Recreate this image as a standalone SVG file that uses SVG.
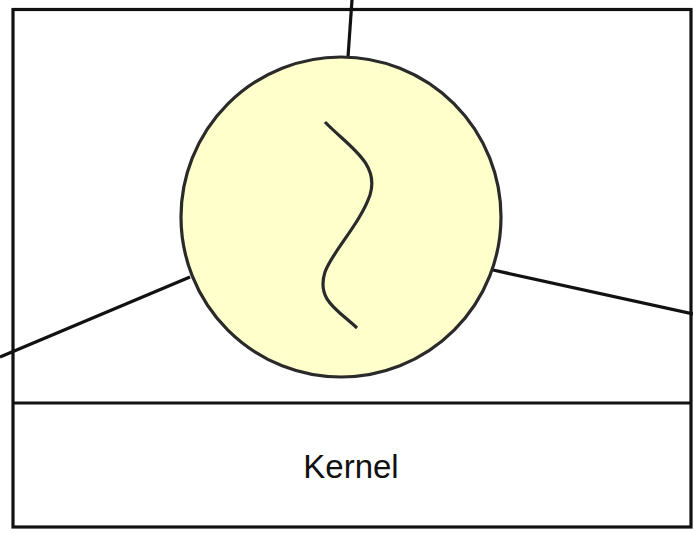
<svg xmlns="http://www.w3.org/2000/svg" width="693" height="534" viewBox="0 0 693 534">
  <style>
    .frame { fill: #ffffff; stroke: #111111; stroke-width: 3.2; }
    .link { stroke: #111111; stroke-width: 3.2; fill: none; }
    .proc { fill: #ffffcc; stroke: #2a2a2a; stroke-width: 3.2; }
    .thread { fill: none; stroke: #2a2a2a; stroke-width: 3.2; stroke-linecap: butt; }
    .label { font-family: "Liberation Sans", Arial, sans-serif; font-size: 33px; fill: #111111; }
  </style>
  <g id="system">
    <rect class="frame" x="13" y="9.5" width="678" height="517.5"/>
    <line class="link" x1="13" y1="403" x2="691" y2="403"/>
  </g>
  <g id="kernel">
    <text class="label" x="351" y="478" text-anchor="middle">Kernel</text>
  </g>
  <g id="connectors">
    <line class="link" x1="352" y1="0" x2="348" y2="57"/>
    <line class="link" x1="0" y1="357" x2="190" y2="277"/>
    <line class="link" x1="493" y1="270" x2="693" y2="314"/>
  </g>
  <g id="process">
    <circle class="proc" cx="341" cy="217" r="160"/>
    <path class="thread" d="M325,122 C348,146 380,163 370,195 C360,224 332,252 325,272 C316,300 338,310 357,328"/>
  </g>
</svg>
